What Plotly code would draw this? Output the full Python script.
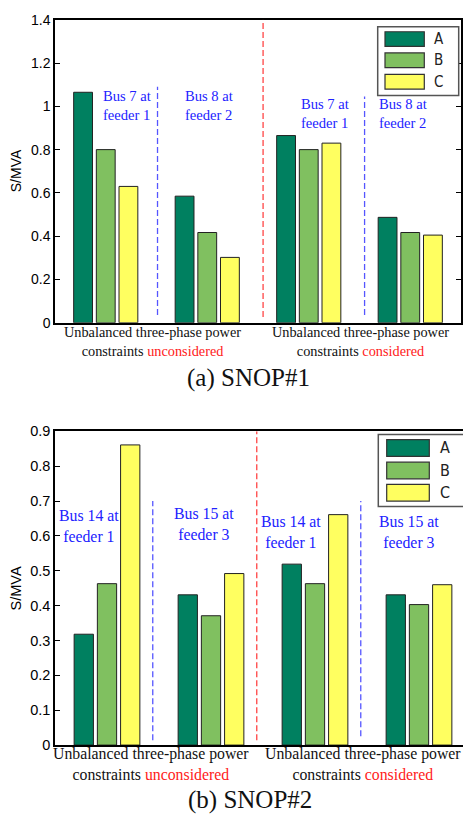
import plotly.graph_objects as go

W, H = 463, 823

# ---------------- data ----------------
groups = [1, 2, 3, 4]
phases = ["A", "B", "C"]
colors = ["#008060", "#80c060", "#ffff60"]

snop1_A = [1.065, 0.585, 0.865, 0.487]
snop1_B = [0.80, 0.417, 0.80, 0.417]
snop1_C = [0.63, 0.302, 0.83, 0.405]

snop2_A = [0.318, 0.431, 0.519, 0.431]
snop2_B = [0.463, 0.371, 0.463, 0.403]
snop2_C = [0.861, 0.492, 0.661, 0.460]

bus_labels_1 = ["Bus 7 at<br>feeder 1", "Bus 8 at<br>feeder 2", "Bus 7 at<br>feeder 1", "Bus 8 at<br>feeder 2"]
bus_labels_2 = ["Bus 14 at<br>feeder 1", "Bus 15 at<br>feeder 3", "Bus 14 at<br>feeder 1", "Bus 15 at<br>feeder 3"]
cat_labels = ["Unbalanced three-phase power<br>constraints <span style='color:#ff2020'>unconsidered</span>",
              "Unbalanced three-phase power<br>constraints <span style='color:#ff2020'>considered</span>"]
captions = ["(a) SNOP#1", "(b) SNOP#2"]
ytitle = "S/MVA"

# ---------------- helpers ----------------
def px(x):
    return x / W

def py(y):
    return 1 - y / H

SERIF = "Liberation Serif, Times New Roman, serif"
SANS = "Liberation Sans, Arial, sans-serif"
NARROW = "Liberation Sans Narrow, DejaVu Sans Condensed, Liberation Sans, sans-serif"

fig = go.Figure()

for ph, col, vals in zip(phases, colors, [snop1_A, snop1_B, snop1_C]):
    fig.add_trace(go.Bar(x=groups, y=vals, name=ph, marker=dict(color=col, line=dict(color="#222222", width=1)),
                         xaxis="x", yaxis="y", showlegend=False, offsetgroup=ph))
for ph, col, vals in zip(phases, colors, [snop2_A, snop2_B, snop2_C]):
    fig.add_trace(go.Bar(x=groups, y=vals, name=ph, marker=dict(color=col, line=dict(color="#222222", width=1)),
                         xaxis="x2", yaxis="y2", showlegend=False, offsetgroup=ph))

axis_common = dict(showgrid=False, zeroline=False, showline=True, linecolor="black", linewidth=1.5)

fig.update_layout(
    width=W, height=H, margin=dict(l=0, r=0, t=0, b=0),
    paper_bgcolor="white", plot_bgcolor="white",
    barmode="group", bargap=0.33, bargroupgap=0.17,
    showlegend=False,
    xaxis=dict(domain=[px(55), px(461)], range=[0.5, 4.5], anchor="y", mirror=True,
               showticklabels=False, ticks="", **axis_common),
    yaxis=dict(domain=[py(321), py(12)], range=[0, 1.4], dtick=0.2, anchor="x", mirror="ticks",
               ticks="inside", ticklen=5, tickcolor="black", tickwidth=1,
               tickfont=dict(family=SANS, size=14, color="black"), **axis_common),
    xaxis2=dict(domain=[px(55), 1], range=[0.5, 4.423], anchor="y2", mirror=True,
                showticklabels=False, ticks="", **axis_common),
    yaxis2=dict(domain=[py(751.7), py(431.7)], range=[0, 0.9], dtick=0.1, anchor="x2",
                ticks="inside", ticklen=5, tickcolor="black", tickwidth=1,
                tickfont=dict(family=SANS, size=14.5, color="black"), **axis_common),
)

def note(**kw):
    kw.setdefault("showarrow", False)
    kw.setdefault("xanchor", "center")
    kw.setdefault("yanchor", "middle")
    fig.add_annotation(**kw)

# ---------------- divider lines ----------------
dividers_1 = [(1.51, 0.036, 1.09, "#5555ff"), (2.55, 0.027, 1.40, "#ff4444"), (3.55, 0.036, 1.045, "#5555ff")]
dividers_2 = [(1.44, 0.014, 0.70, "#5555ff"), (2.44, 0.014, 0.90, "#ff4444"), (3.44, 0.025, 0.70, "#5555ff")]
for xv, y0, y1, c in dividers_1:
    fig.add_shape(type="line", xref="x", yref="y", x0=xv, x1=xv, y0=y0, y1=y1,
                  line=dict(color=c, width=1.3, dash="6px,3px"))
for xv, y0, y1, c in dividers_2:
    fig.add_shape(type="line", xref="x2", yref="y2", x0=xv, x1=xv, y0=y0, y1=y1,
                  line=dict(color=c, width=1.3, dash="6px,3px"))

# ---------------- bus annotations ----------------
bus_pos_1 = [(1.209, 1.005), (2.017, 1.005), (3.16, 0.966), (3.93, 0.966)]
bus_pos_2 = [(0.827, 0.627), (1.933, 0.634), (2.77, 0.612), (3.904, 0.612)]
for t, (xv, yv) in zip(bus_labels_1, bus_pos_1):
    note(x=xv, y=yv, xref="x", yref="y", text=t,
         font=dict(family=SERIF, size=14.6, color="#2222ff"), align="left")
for t, (xv, yv) in zip(bus_labels_2, bus_pos_2):
    note(x=xv, y=yv, xref="x2", yref="y2", text=t,
         font=dict(family=SERIF, size=15.8, color="#2222ff"), align="center")

# ---------------- category labels ----------------
for t, xv in zip(cat_labels, [1.456, 3.505]):
    note(x=xv, y=py(340), xref="x", yref="paper", text=t,
         font=dict(family=SERIF, size=14.3, color="#111111"), align="center")
for t, xv in zip(cat_labels, [1.423, 3.46]):
    note(x=xv, y=py(771), xref="x2", yref="paper", text=t,
         font=dict(family=SERIF, size=15.8, color="#111111"), align="center")

# ---------------- captions & axis titles ----------------
note(x=px(249), y=py(377), xref="paper", yref="paper", text=captions[0],
     font=dict(family=SERIF, size=25, color="#111111"))
note(x=px(250), y=py(808), xref="paper", yref="paper", text=captions[1],
     font=dict(family=SERIF, size=25, color="#111111"))
note(x=px(16), y=py(166.5), xref="paper", yref="paper", text=ytitle,
     textangle=-90, font=dict(family=SANS, size=14, color="black"))
note(x=px(16), y=py(592), xref="paper", yref="paper", text=ytitle,
     textangle=-90, font=dict(family=SANS, size=14.5, color="black"))

# ---------------- legends (drawn manually) ----------------
def draw_legend(box, sw_x, rows, sw_h, lab_x, fsize):
    bx0, by0, bx1, by1 = box
    fig.add_shape(type="rect", xref="paper", yref="paper", x0=px(bx0), x1=px(bx1), y0=py(by1), y1=py(by0),
                  line=dict(color="#555555", width=1.5), fillcolor="white", layer="above")
    for ph, col, yc in zip(phases, colors, rows):
        fig.add_shape(type="rect", xref="paper", yref="paper", x0=px(sw_x[0]), x1=px(sw_x[1]),
                      y0=py(yc + sw_h / 2), y1=py(yc - sw_h / 2),
                      line=dict(color="#333333", width=1.2), fillcolor=col, layer="above")
        note(x=px(lab_x), y=py(yc), xref="paper", yref="paper", text=ph,
             font=dict(family=NARROW, size=fsize, color="#222222"))

draw_legend((377.7, 19, 458.7, 89.3), (385, 424.3), [31.7, 53.3, 75.2], 15, 438.5, 15)
draw_legend((378.3, 435, 475, 508.3), (386.7, 429.3), [448.7, 471.7, 494.3], 17, 445, 16)

fig.write_html("out.html")
